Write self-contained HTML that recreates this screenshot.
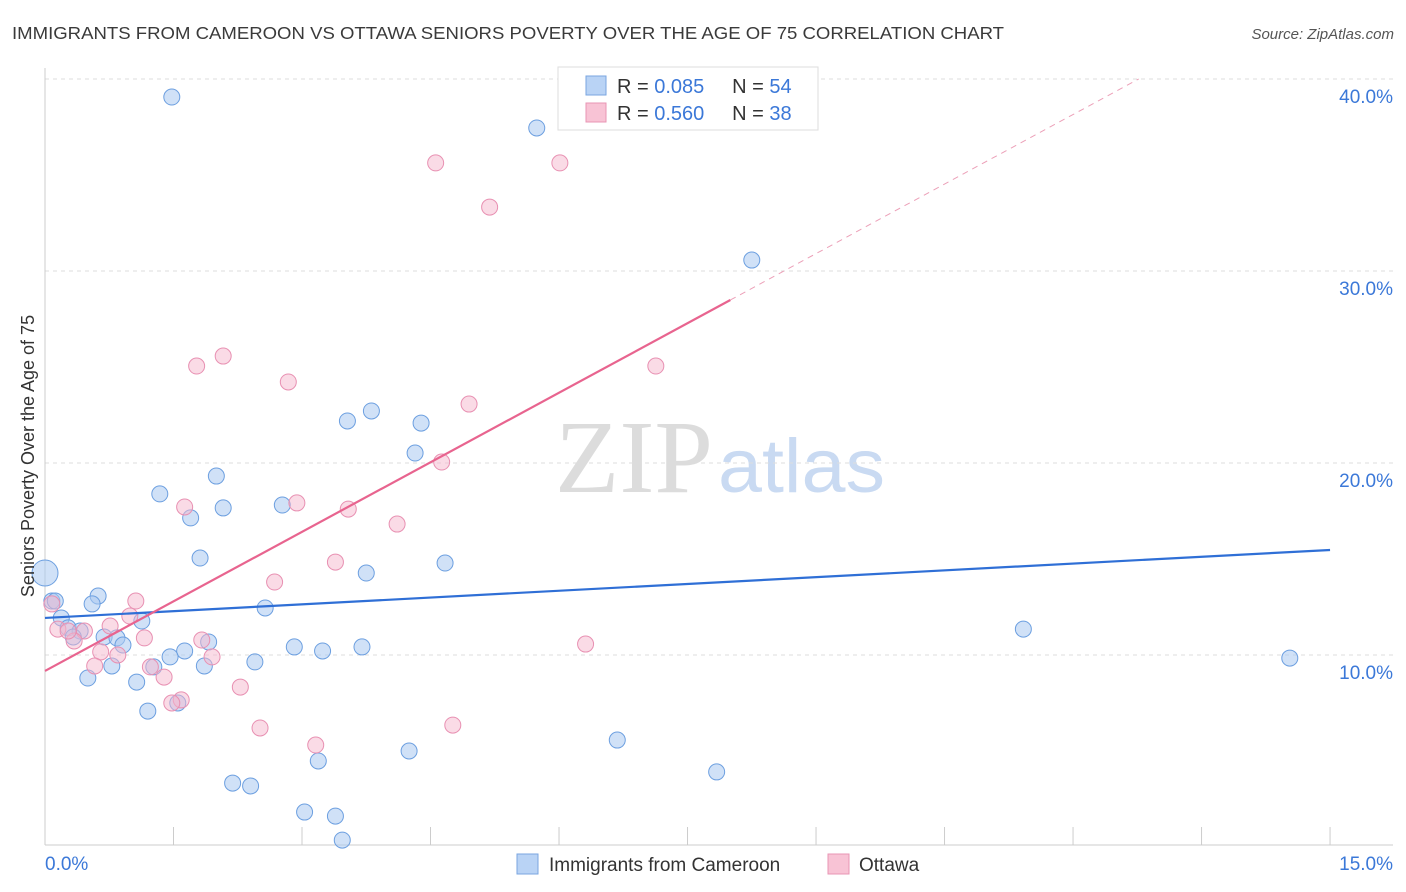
<!DOCTYPE html>
<html><head><meta charset="utf-8"><style>
body{margin:0;background:#fff;}
svg{display:block;font-family:"Liberation Sans",sans-serif;}
</style></head><body>
<svg id="chart" width="1406" height="892" xmlns="http://www.w3.org/2000/svg">
<text x="12" y="39" font-size="17.5" fill="#3a3a3a" textLength="992" lengthAdjust="spacingAndGlyphs">IMMIGRANTS FROM CAMEROON VS OTTAWA SENIORS POVERTY OVER THE AGE OF 75 CORRELATION CHART</text>
<text x="1394" y="39" font-size="15" font-style="italic" fill="#555" text-anchor="end">Source: ZipAtlas.com</text>
<g>
<text x="555" y="492" font-size="104" font-family="Liberation Serif,serif" fill="#dcdcdc" textLength="158" lengthAdjust="spacingAndGlyphs">ZIP</text>
<text x="718" y="492" font-size="76" fill="#c9daf2" textLength="167" lengthAdjust="spacingAndGlyphs">atlas</text>
</g>
<g id="grid"></g>
<g id="axes"></g>
<g id="marks"></g>
<text transform="translate(34,456) rotate(-90)" font-size="18" fill="#333" text-anchor="middle">Seniors Poverty Over the Age of 75</text>
<g>
<rect x="558" y="67" width="260" height="63" fill="#fff" stroke="#ddd"/>
<rect x="586" y="76" width="20" height="19" fill="#b9d3f5" stroke="#7aa6e0"/>
<text x="617" y="93" font-size="20" fill="#333">R = <tspan fill="#3b78d8">0.085</tspan>&#160;&#160;&#160;&#160; N = <tspan fill="#3b78d8">54</tspan></text>
<rect x="586" y="103" width="20" height="19" fill="#f8c3d5" stroke="#e896b4"/>
<text x="617" y="120" font-size="20" fill="#333">R = <tspan fill="#3b78d8">0.560</tspan>&#160;&#160;&#160;&#160; N = <tspan fill="#3b78d8">38</tspan></text>
</g>
<g>
<rect x="517" y="854" width="21" height="20" fill="#b9d3f5" stroke="#7aa6e0"/>
<text x="549" y="871" font-size="19" fill="#333">Immigrants from Cameroon</text>
<rect x="828" y="854" width="21" height="20" fill="#f8c3d5" stroke="#e896b4"/>
<text x="859" y="871" font-size="19" fill="#333">Ottawa</text>
</g>
</svg>
<script>
const xTicks=[0,1.5,3,4.5,6,7.5,9,10.5,12,13.5,15];
const yTicks=[10,20,30,40];
const blueX=[1.48,5.74,8.25,3.53,3.81,4.39,4.32,1.34,2.00,2.08,1.70,2.77,1.81,3.75,4.67,0.62,0.55,0.08,2.57,1.13,0.19,0.27,0.41,0.33,0.69,0.84,0.91,1.91,1.63,1.46,2.91,3.24,3.70,2.45,1.86,1.27,0.78,0.50,1.07,1.55,1.20,11.42,14.53,6.68,4.25,3.19,7.84,2.19,2.40,3.03,3.39,3.47,0.12,0.00];
const blueY=[39.06,37.45,30.57,22.19,22.71,22.08,20.52,18.39,19.32,17.66,17.14,17.81,15.05,14.27,14.79,13.07,12.66,12.81,12.45,11.77,11.93,11.41,11.25,10.94,10.94,10.89,10.52,10.68,10.21,9.90,10.42,10.21,10.42,9.64,9.43,9.38,9.43,8.80,8.59,7.50,7.08,11.35,9.84,5.57,5.00,4.48,3.91,3.33,3.18,1.82,1.61,0.36,12.81,14.27];
const pinkX=[4.56,6.01,5.19,2.08,1.77,7.13,2.84,4.95,4.63,1.63,2.94,3.54,4.11,3.39,2.68,1.06,0.99,0.76,0.46,0.15,0.34,1.16,1.83,1.95,0.65,0.85,0.58,1.23,1.39,2.28,6.31,1.59,1.48,2.51,4.76,3.16,0.08,0.27];
const pinkY=[35.63,35.63,33.33,25.57,25.05,25.05,24.22,23.07,20.05,17.71,17.92,17.60,16.82,14.84,13.80,12.81,12.03,11.51,11.25,11.35,10.73,10.89,10.78,9.90,10.16,10.00,9.43,9.38,8.85,8.33,10.57,7.66,7.50,6.20,6.35,5.31,12.66,11.25];
const blueTrend=[11.93,15.47];
const pinkTrend=[9.17,2.415];
const NS='http://www.w3.org/2000/svg';
const sx=v=>45+v*85.67, sy=v=>847-v*19.2;
function mk(parent,tag,attrs){const e=document.createElementNS(NS,tag);for(const k in attrs)e.setAttribute(k,attrs[k]);parent.appendChild(e);return e;}
const grid=document.getElementById('grid'),axes=document.getElementById('axes'),marks=document.getElementById('marks');
yTicks.forEach(t=>{
 const l=mk(grid,'line',{x1:45,x2:1393,y1:sy(t),y2:sy(t),stroke:'#ddd','stroke-dasharray':'4,4'});
 
 
 const tx=mk(axes,'text',{x:1393,y:sy(t)+24,'font-size':19,fill:'#3b78d8','text-anchor':'end'});
 tx.textContent=t.toFixed(1)+'%';
 
 
});
const ya=mk(axes,'line',{x1:45,x2:45,y1:68,y2:845,stroke:'#ccc'});


const xa=mk(axes,'line',{x1:45,x2:1393,y1:845,y2:845,stroke:'#ccc'});


xTicks.forEach(t=>{
 const l=mk(axes,'line',{x1:sx(t),x2:sx(t),y1:827,y2:845,stroke:'#ccc'});
 
 
});
[[0,'start'],[15,'end']].forEach(([t,a])=>{
 const tx=mk(axes,'text',{x:t===0?45:1393,y:870,'font-size':19,fill:'#3b78d8','text-anchor':a});
 tx.textContent=t.toFixed(1)+'%';
 
 
});
blueX.forEach((x,i)=>{
 const big=(i===blueX.length-1);
 const c=mk(marks,'circle',{cx:sx(x),cy:sy(blueY[i]),r:big?13:8,fill:'#aac8f0','fill-opacity':0.55,stroke:'#6c9fe0','stroke-width':1});
 
 
});
pinkX.forEach((x,i)=>{
 const c=mk(marks,'circle',{cx:sx(x),cy:sy(pinkY[i]),r:8,fill:'#f6b8ce','fill-opacity':0.5,stroke:'#e890b2','stroke-width':1});
 
 
});
const bl=mk(marks,'line',{x1:sx(0),y1:sy(blueTrend[0]),x2:sx(15),y2:sy(blueTrend[1]),stroke:'#2f6fd6','stroke-width':2.2});


const pe=8.0, pd=(40-pinkTrend[0])/pinkTrend[1];
const pl=mk(marks,'line',{x1:sx(0),y1:sy(pinkTrend[0]),x2:sx(pe),y2:sy(pinkTrend[0]+pinkTrend[1]*pe),stroke:'#e8648f','stroke-width':2.2});


const pdl=mk(marks,'line',{x1:sx(pe),y1:sy(pinkTrend[0]+pinkTrend[1]*pe),x2:sx(pd),y2:sy(40),stroke:'#eca0b8','stroke-width':1,'stroke-dasharray':'6,5'});


</script>
</body></html>
